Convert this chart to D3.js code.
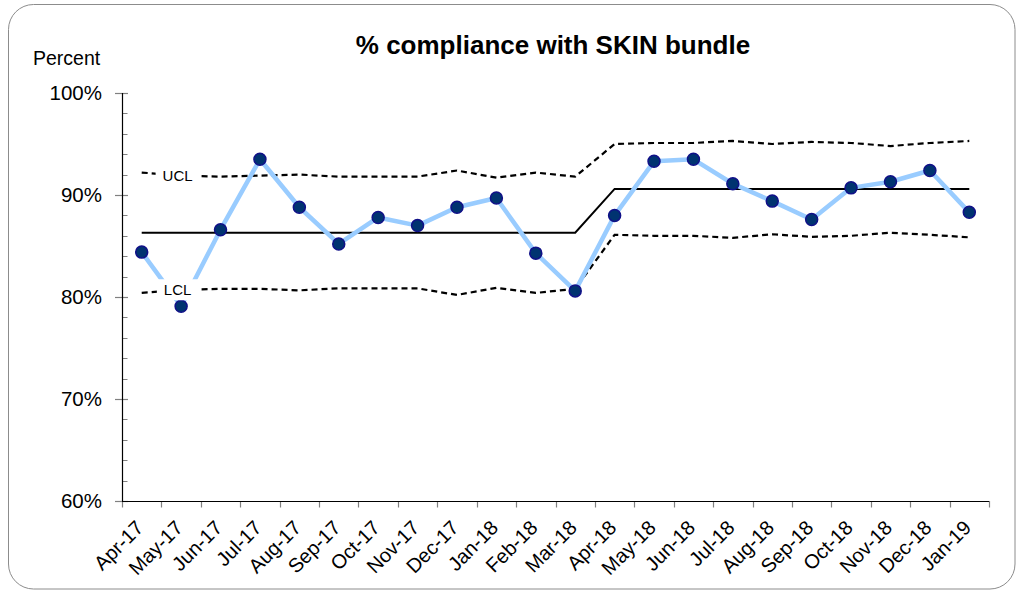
<!DOCTYPE html>
<html>
<head>
<meta charset="utf-8">
<script src="https://cdn.jsdelivr.net/npm/d3@7"></script>
<style>
  body { margin: 0; background: #fff; }
  svg { display: block; font-family: "Liberation Sans", Arial, sans-serif; }
</style>
</head>
<body>
<svg id="chart" width="1021" height="591"></svg>
<script>
const months = ["Apr-17","May-17","Jun-17","Jul-17","Aug-17","Sep-17","Oct-17","Nov-17","Dec-17","Jan-18","Feb-18","Mar-18",
                "Apr-18","May-18","Jun-18","Jul-18","Aug-18","Sep-18","Oct-18","Nov-18","Dec-18","Jan-19"];
const compliance = [84.4, 79.1, 86.6, 93.5, 88.8, 85.2, 87.8, 87.0, 88.8, 89.7, 84.3, 80.6,
                    88.0, 93.3, 93.5, 91.1, 89.4, 87.6, 90.7, 91.3, 92.4, 88.3];
const meanLine = [86.3, 86.3, 86.3, 86.3, 86.3, 86.3, 86.3, 86.3, 86.3, 86.3, 86.3, 86.3,
                  90.6, 90.6, 90.6, 90.6, 90.6, 90.6, 90.6, 90.6, 90.6, 90.6];
const ucl = [92.2, 91.9, 91.8, 91.9, 92.0, 91.8, 91.8, 91.8, 92.4, 91.7, 92.2, 91.8,
             95.0, 95.1, 95.1, 95.3, 95.0, 95.2, 95.1, 94.8, 95.1, 95.3];
const lcl = [80.4, 80.7, 80.8, 80.8, 80.65, 80.85, 80.85, 80.85, 80.2, 80.9, 80.4, 80.8,
             86.1, 86.0, 86.0, 85.8, 86.15, 85.9, 86.0, 86.3, 86.1, 85.85];
const yTicks = [60, 70, 80, 90, 100];
const yMinorTicks = [62, 64, 66, 68, 72, 74, 76, 78, 82, 84, 86, 88, 92, 94, 96, 98];
const titleText = "% compliance with SKIN bundle";
const yAxisTitle = "Percent";

const svg = d3.select("#chart");

// outer rounded border
svg.append("rect")
  .attr("x", 8.5).attr("y", 4.5).attr("width", 1006.5).attr("height", 584.5)
  .attr("rx", 25).attr("ry", 25)
  .attr("fill", "#fff").attr("stroke", "#8c8c8c").attr("stroke-width", 1);

const x = d3.scaleBand().domain(months).range([122, 989]).padding(0);
const y = d3.scaleLinear().domain([60, 100]).range([501, 93]);
const cx = d => x(d) + x.bandwidth() / 2;

// title
svg.append("text")
  .attr("x", 553).attr("y", 54)
  .attr("text-anchor", "middle")
  .attr("font-size", 26).attr("font-weight", "bold")
  .attr("fill", "#000")
  .text(titleText);

svg.append("text")
  .attr("x", 33).attr("y", 65)
  .attr("font-size", 19.5).attr("fill", "#000")
  .text(yAxisTitle);

// y axis
const gy = svg.append("g");
gy.selectAll("line.minor").data(yMinorTicks).enter().append("line")
  .attr("x1", 122).attr("x2", 127.5)
  .attr("y1", d => Math.round(y(d)) + 0.5).attr("y2", d => Math.round(y(d)) + 0.5)
  .attr("stroke", "#808080").attr("stroke-width", 1);
gy.selectAll("line.major").data(yTicks).enter().append("line")
  .attr("x1", 115).attr("x2", 128)
  .attr("y1", d => Math.round(y(d)) + 0.5).attr("y2", d => Math.round(y(d)) + 0.5)
  .attr("stroke", "#808080").attr("stroke-width", 1.2);
gy.selectAll("text").data(yTicks).enter().append("text")
  .attr("x", 102).attr("y", d => y(d))
  .attr("dy", "0.36em")
  .attr("text-anchor", "end")
  .attr("font-size", 20.5).attr("fill", "#000")
  .text(d => d + "%");
gy.append("line")
  .attr("x1", 122.5).attr("x2", 122.5).attr("y1", y(100)).attr("y2", y(60))
  .attr("stroke", "#000").attr("stroke-width", 1.2);

// x axis
const gx = svg.append("g");
const bounds = months.map(m => x(m)).concat([989]);
gx.selectAll("line.tick").data(bounds).enter().append("line")
  .attr("x1", d => Math.round(d) + 0.5).attr("x2", d => Math.round(d) + 0.5)
  .attr("y1", 501).attr("y2", 507.5)
  .attr("stroke", "#808080").attr("stroke-width", 1.2);
gx.append("line")
  .attr("x1", 122).attr("x2", 989).attr("y1", 501.5).attr("y2", 501.5)
  .attr("stroke", "#000").attr("stroke-width", 1.2);
gx.selectAll("text").data(months).enter().append("text")
  .attr("transform", d => `translate(${cx(d) + 3},${529}) rotate(-45)`)
  .attr("text-anchor", "end")
  .attr("font-size", 20).attr("fill", "#000")
  .text(d => d);

// control limits
const lineGen = arr => d3.line().x((d, i) => cx(months[i])).y(d => y(d))(arr);
svg.append("path").attr("d", lineGen(ucl))
  .attr("fill", "none").attr("stroke", "#000").attr("stroke-width", 2.2)
  .attr("stroke-dasharray", "6,4");
svg.append("path").attr("d", lineGen(lcl))
  .attr("fill", "none").attr("stroke", "#000").attr("stroke-width", 2.2)
  .attr("stroke-dasharray", "6,4");
svg.append("path").attr("d", lineGen(meanLine))
  .attr("fill", "none").attr("stroke", "#000").attr("stroke-width", 2);

// data series
svg.append("path").attr("d", lineGen(compliance))
  .attr("fill", "none").attr("stroke", "#99ccff").attr("stroke-width", 4.5)
  .attr("stroke-linejoin", "round");
svg.selectAll("circle.pt").data(compliance).enter().append("circle")
  .attr("cx", (d, i) => cx(months[i])).attr("cy", d => y(d))
  .attr("r", 6)
  .attr("fill", "#003370").attr("stroke", "#101088").attr("stroke-width", 1.5);

// UCL / LCL labels with white backgrounds
[["UCL", ucl[1]], ["LCL", lcl[1]]].forEach(([lab, v]) => {
  const g = svg.append("g");
  const t = g.append("text")
    .attr("x", cx(months[1]) - 3.5).attr("y", y(v))
    .attr("dy", "0.36em")
    .attr("text-anchor", "middle")
    .attr("font-size", 15).attr("fill", "#000")
    .text(lab);
  const bb = t.node().getBBox();
  g.insert("rect", "text")
    .attr("x", bb.x - 7).attr("y", bb.y - 2)
    .attr("width", bb.width + 14).attr("height", bb.height + 4)
    .attr("fill", "#fff");
});
</script>
</body>
</html>
